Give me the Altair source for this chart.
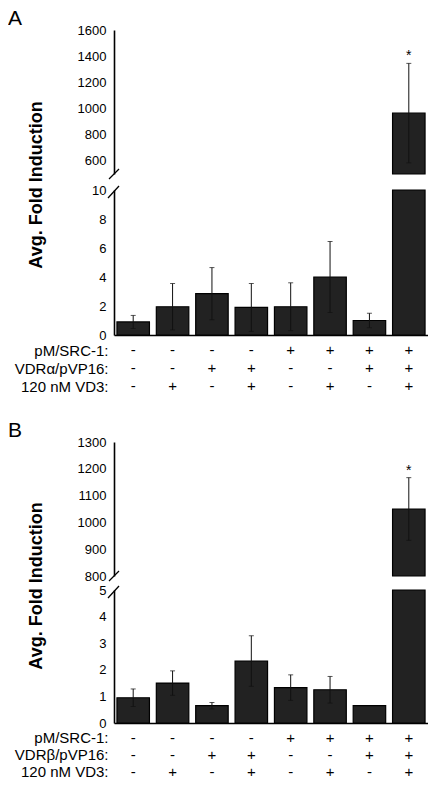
import altair as alt
import pandas as pd

FONT = "Liberation Sans"

categories = [1, 2, 3, 4, 5, 6, 7, 8]
a_mean = [0.9, 1.95, 2.85, 1.9, 1.95, 4.0, 1.0, 965]
a_sd = [0.45, 1.6, 1.8, 1.65, 1.65, 2.45, 0.5, 380]
b_mean = [0.95, 1.5, 0.65, 2.33, 1.33, 1.25, 0.65, 1050]
b_sd = [0.33, 0.46, 0.12, 0.95, 0.48, 0.5, 0.0, 117]
sig = ["", "", "", "", "", "", "", "*"]

src1 = ["-", "-", "-", "-", "+", "+", "+", "+"]
vdr = ["-", "-", "+", "+", "-", "-", "+", "+"]
vd3 = ["-", "+", "-", "+", "-", "+", "-", "+"]
rows_a = ["pM/SRC-1:", "VDRα/pVP16:", "120 nM VD3:"]
rows_b = ["pM/SRC-1:", "VDRβ/pVP16:", "120 nM VD3:"]

a_upper_ticks = [600, 800, 1000, 1200, 1400, 1600]
a_lower_ticks = [0, 2, 4, 6, 8, 10]
b_upper_ticks = [800, 900, 1000, 1100, 1200, 1300]
b_lower_ticks = [0, 1, 2, 3, 4, 5]

W = 314
BAR_FILL = "#222222"


def xenc(axis=None):
    return alt.X("cond:O",
                 scale=alt.Scale(type="band", domain=categories,
                                 paddingInner=0.175, paddingOuter=0.075),
                 axis=axis)


def one(d):
    return alt.Chart(pd.DataFrame([d]))


def panel(letter, means, sds, rows, up_dom, up_ticks, up_h, lo_dom, lo_ticks, lo_h, gap,
          row_h, after):
    df = pd.DataFrame({"cond": categories, "mean": means, "sd": sds, "sig": sig})
    df["lo"] = df["mean"] - df["sd"]
    df["hi"] = df["mean"] + df["sd"]

    # ---------- upper (broken) section; extra height below = gap to lower part ----------
    ysu = alt.Scale(domain=up_dom, zero=False, nice=False, range=[up_h, 0])
    axu = alt.Axis(values=up_ticks, title=None, format="d")
    bu = alt.Chart(df).transform_filter(f"datum.mean > {up_dom[0]}")
    bars_u = bu.transform_calculate(base=str(up_dom[0])).mark_bar(
        fill=BAR_FILL, stroke="black", strokeWidth=1.2
    ).encode(x=xenc(), y=alt.Y("mean:Q", scale=ysu, axis=axu), y2="base:Q")
    err_u = bu.mark_rule(color="#111111", strokeWidth=1).encode(
        x=xenc(), y=alt.Y("lo:Q", scale=ysu, axis=axu), y2="hi:Q")
    cap_u = bu.transform_fold(["lo", "hi"]).mark_tick(
        orient="horizontal", color="#111111", size=5, thickness=1
    ).encode(x=xenc(), y=alt.Y("value:Q", scale=ysu, axis=axu))
    star = bu.mark_text(fontSize=14, font=FONT, baseline="alphabetic", dy=-3, color="black").encode(
        x=xenc(), y=alt.Y("hi:Q", scale=ysu, axis=axu), text="sig:N")
    lab = one({"t": letter}).mark_text(fontSize=21, font=FONT, align="left", baseline="top",
                                        color="black").encode(
        text="t:N", x=alt.value(-106), y=alt.value(-22))
    ytitle = one({"t": "Avg. Fold Induction"}).mark_text(
        fontSize=18, font=FONT, fontWeight="bold", angle=270, align="center",
        baseline="middle", color="black").encode(
        text="t:N", x=alt.value(-77), y=alt.value(up_h + gap / 2 + 3))
    slash_u = one({"k": 1}).mark_rule(color="black", strokeWidth=1.3).encode(
        x=alt.value(-5), x2=alt.value(5), y=alt.value(up_h + 5), y2=alt.value(up_h - 5))
    upper = alt.layer(bars_u, err_u, cap_u, star, lab, ytitle, slash_u).properties(
        width=W, height=up_h + gap)

    # ---------- lower section ----------
    ysl = alt.Scale(domain=lo_dom, nice=False)
    axl = alt.Axis(values=lo_ticks, title=None, format="d")
    bl = alt.Chart(df).transform_calculate(top=f"min(datum.mean, {lo_dom[1]})")
    xl = xenc(alt.Axis(labels=False, ticks=False, title=None))
    bars_l = bl.mark_bar(fill=BAR_FILL, stroke="black", strokeWidth=1.2).encode(
        x=xl, y=alt.Y("top:Q", scale=ysl, axis=axl))
    be = bl.transform_filter(f"datum.mean < {lo_dom[1]} && datum.sd > 0")
    err_l = be.mark_rule(color="#111111", strokeWidth=1).encode(
        x=xl, y=alt.Y("lo:Q", scale=ysl, axis=axl), y2="hi:Q")
    cap_l = be.transform_fold(["lo", "hi"]).mark_tick(
        orient="horizontal", color="#111111", size=5, thickness=1
    ).encode(x=xl, y=alt.Y("value:Q", scale=ysl, axis=axl))
    slash_l = one({"k": 1}).mark_rule(color="black", strokeWidth=1.3).encode(
        x=alt.value(-6), x2=alt.value(5), y=alt.value(8), y2=alt.value(-4))
    lower = alt.layer(bars_l, err_l, cap_l, slash_l).properties(width=W, height=lo_h)

    # ---------- +/- table ----------
    recs = []
    for r, signs in zip(rows, [src1, vdr, vd3]):
        for c, s in zip(categories, signs):
            recs.append({"cond": c, "row": r, "sign": s})
    tdf = pd.DataFrame(recs)
    top_gap = 6
    table = alt.Chart(tdf).mark_text(fontSize=15, font=FONT, color="black", baseline="middle").encode(
        x=xenc(),
        y=alt.Y("row:N", sort=rows,
                scale=alt.Scale(type="point", padding=0.5, range=[top_gap, top_gap + 3 * row_h]),
                axis=alt.Axis(title=None, domain=False, ticks=False, labelFontSize=15,
                              labelPadding=6, labelColor="black", labelFont=FONT)),
        text="sign:N",
    ).properties(width=W, height=top_gap + 3 * row_h + after)

    return [upper, lower, table]


pA = panel("A", a_mean, a_sd, rows_a, [500, 1600], a_upper_ticks, 144,
           [0, 10], a_lower_ticks, 145, 16, 18, 47)
pB = panel("B", b_mean, b_sd, rows_b, [800, 1300], b_upper_ticks, 134,
           [0, 5], b_lower_ticks, 133, 14, 17, 0)

chart = alt.vconcat(*pA, *pB, spacing=0, bounds="flush", padding=0).configure_view(
    stroke=None
).configure_axis(
    grid=False, labelFont=FONT, labelFontSize=13, labelColor="black",
    domainColor="black", domainWidth=1.6, ticks=False, tickSize=0,
    labelPadding=8, labelFlush=False,
)

chart.save("out.html", embed_options={"renderer": "svg", "actions": False})
